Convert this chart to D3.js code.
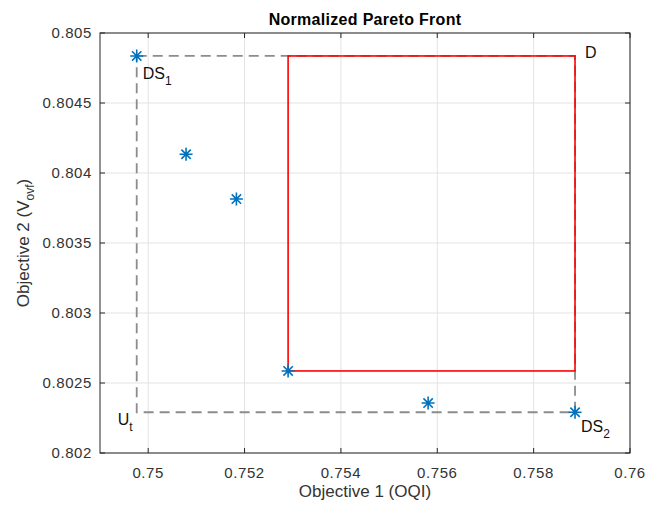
<!DOCTYPE html>
<html>
<head>
<meta charset="utf-8">
<script src="https://cdn.jsdelivr.net/npm/d3@7"></script>
<style>
  body { margin: 0; background: #fff; }
  text { font-family: "Liberation Sans", Arial, sans-serif; fill: #262626; }
</style>
</head>
<body>
<div id="chart"></div>
<script>
// pareto points
const objective1 = [0.749762, 0.750786, 0.751831, 0.752904, 0.75581, 0.758859];
const objective2 = [0.804836, 0.804134, 0.803814, 0.802586, 0.802357, 0.802291];
const xTicks = [0.75, 0.752, 0.754, 0.756, 0.758, 0.76];
const yTicks = [0.802, 0.8025, 0.803, 0.8035, 0.804, 0.8045, 0.805];
const xDomain = [0.749, 0.76];
const yDomain = [0.802, 0.805];

const ctx = {
    w: 664, h: 507,
    margin: {top: 33, right: 34, bottom: 54, left: 100}
};

let svg = d3.select("#chart").append("svg")
    .attr("width", ctx.w)
    .attr("height", ctx.h);

let pw = ctx.w - ctx.margin.left - ctx.margin.right;
let ph = ctx.h - ctx.margin.top - ctx.margin.bottom;

let x = d3.scaleLinear().domain(xDomain).range([ctx.margin.left, ctx.margin.left + pw]);
let y = d3.scaleLinear().domain(yDomain).range([ctx.margin.top + ph, ctx.margin.top]);

let fmt = v => String(+v.toFixed(5));

// grid
let grid = svg.append("g");
grid.selectAll(".gx").data(xTicks).enter().append("line")
    .attr("x1", d => x(d)).attr("x2", d => x(d))
    .attr("y1", y.range()[0]).attr("y2", y.range()[1])
    .attr("stroke", "#e3e3e3").attr("stroke-width", 1);
grid.selectAll(".gy").data(yTicks).enter().append("line")
    .attr("y1", d => y(d)).attr("y2", d => y(d))
    .attr("x1", x.range()[0]).attr("x2", x.range()[1])
    .attr("stroke", "#e3e3e3").attr("stroke-width", 1);

// data
let pts = objective1.map((v, i) => ({x: v, y: objective2[i]}));
let ds1 = pts[0], ds2 = pts[pts.length - 1], knee = pts[3];

// utopia / nadir box (dashed)
let box = [[ds1.x, ds1.y], [ds2.x, ds1.y], [ds2.x, ds2.y], [ds1.x, ds2.y], [ds1.x, ds1.y]];
svg.append("path")
    .attr("d", d3.line().x(d => x(d[0])).y(d => y(d[1]))(box))
    .attr("fill", "none")
    .attr("stroke", "#8c8c8c")
    .attr("stroke-width", 1.8)
    .attr("stroke-dasharray", "10,6");

// red rectangle
svg.append("rect")
    .attr("x", x(knee.x))
    .attr("y", y(ds1.y))
    .attr("width", x(ds2.x) - x(knee.x))
    .attr("height", y(knee.y) - y(ds1.y))
    .attr("fill", "none")
    .attr("stroke", "#ff0000")
    .attr("stroke-width", 1.6);

// asterisk markers
let r = 6.5, rd = r * 0.72;
let star = `M${-r},0L${r},0M0,${-r}L0,${r}M${-rd},${-rd}L${rd},${rd}M${-rd},${rd}L${rd},${-rd}`;
svg.selectAll(".pt").data(pts).enter().append("path")
    .attr("transform", d => "translate(" + x(d.x) + "," + y(d.y) + ")")
    .attr("d", star)
    .attr("stroke", "#0072bd")
    .attr("stroke-width", 1.6)
    .attr("fill", "none");

// labels
function subLabel(px, py, main, sub) {
    let t = svg.append("text").attr("x", px).attr("y", py).style("font-size", "16px").style("fill", "#111");
    t.append("tspan").text(main);
    t.append("tspan").attr("dy", 6).style("font-size", "12px").text(sub);
}
subLabel(x(ds1.x) + 6, y(ds1.y) + 23, "DS", "1");
subLabel(x(ds2.x) + 6, y(ds2.y) + 20, "DS", "2");
subLabel(x(ds1.x) - 19, y(ds2.y) + 13, "U", "t");
svg.append("text").attr("x", x(ds2.x) + 10).attr("y", y(ds1.y) + 2)
    .style("font-size", "16px").style("fill", "#111").text("D");

// axes box
let axG = svg.append("g");
axG.append("rect")
    .attr("x", x.range()[0]).attr("y", y.range()[1])
    .attr("width", pw).attr("height", ph)
    .attr("fill", "none").attr("stroke", "#262626").attr("stroke-width", 1);

let tl = 5;
xTicks.forEach(t => {
    axG.append("line").attr("x1", x(t)).attr("x2", x(t))
        .attr("y1", y.range()[0]).attr("y2", y.range()[0] - tl).attr("stroke", "#262626");
    axG.append("line").attr("x1", x(t)).attr("x2", x(t))
        .attr("y1", y.range()[1]).attr("y2", y.range()[1] + tl).attr("stroke", "#262626");
    axG.append("text").attr("x", x(t)).attr("y", y.range()[0] + 25)
        .attr("text-anchor", "middle").style("font-size", "15px")
        .style("fill", "#333")
        .style("letter-spacing", "0.6px").text(fmt(t));
});
yTicks.forEach(t => {
    axG.append("line").attr("y1", y(t)).attr("y2", y(t))
        .attr("x1", x.range()[0]).attr("x2", x.range()[0] + tl).attr("stroke", "#262626");
    axG.append("line").attr("y1", y(t)).attr("y2", y(t))
        .attr("x1", x.range()[1]).attr("x2", x.range()[1] - tl).attr("stroke", "#262626");
    axG.append("text").attr("x", x.range()[0] - 8).attr("y", y(t) + 5)
        .attr("text-anchor", "end").style("font-size", "15px")
        .style("fill", "#333")
        .style("letter-spacing", "0.6px").text(fmt(t));
});

// title and axis labels
svg.append("text")
    .attr("x", ctx.margin.left + pw / 2).attr("y", 25)
    .attr("text-anchor", "middle")
    .style("font-size", "16px").style("font-weight", "bold")
    .style("letter-spacing", "0.3px")
    .style("fill", "#000")
    .text("Normalized Pareto Front");

svg.append("text")
    .attr("x", ctx.margin.left + pw / 2).attr("y", 497)
    .attr("text-anchor", "middle")
    .style("font-size", "17px")
    .style("fill", "#333")
    .text("Objective 1 (OQI)");

let yl = svg.append("text")
    .attr("transform", "translate(29," + (ctx.margin.top + ph / 2) + ") rotate(-90)")
    .attr("text-anchor", "middle")
    .style("fill", "#333")
    .style("font-size", "17px");
yl.append("tspan").text("Objective 2 (V");
yl.append("tspan").attr("dy", 5).style("font-size", "12px").text("ovf");
yl.append("tspan").attr("dy", -5).text(")");
</script>
</body>
</html>
